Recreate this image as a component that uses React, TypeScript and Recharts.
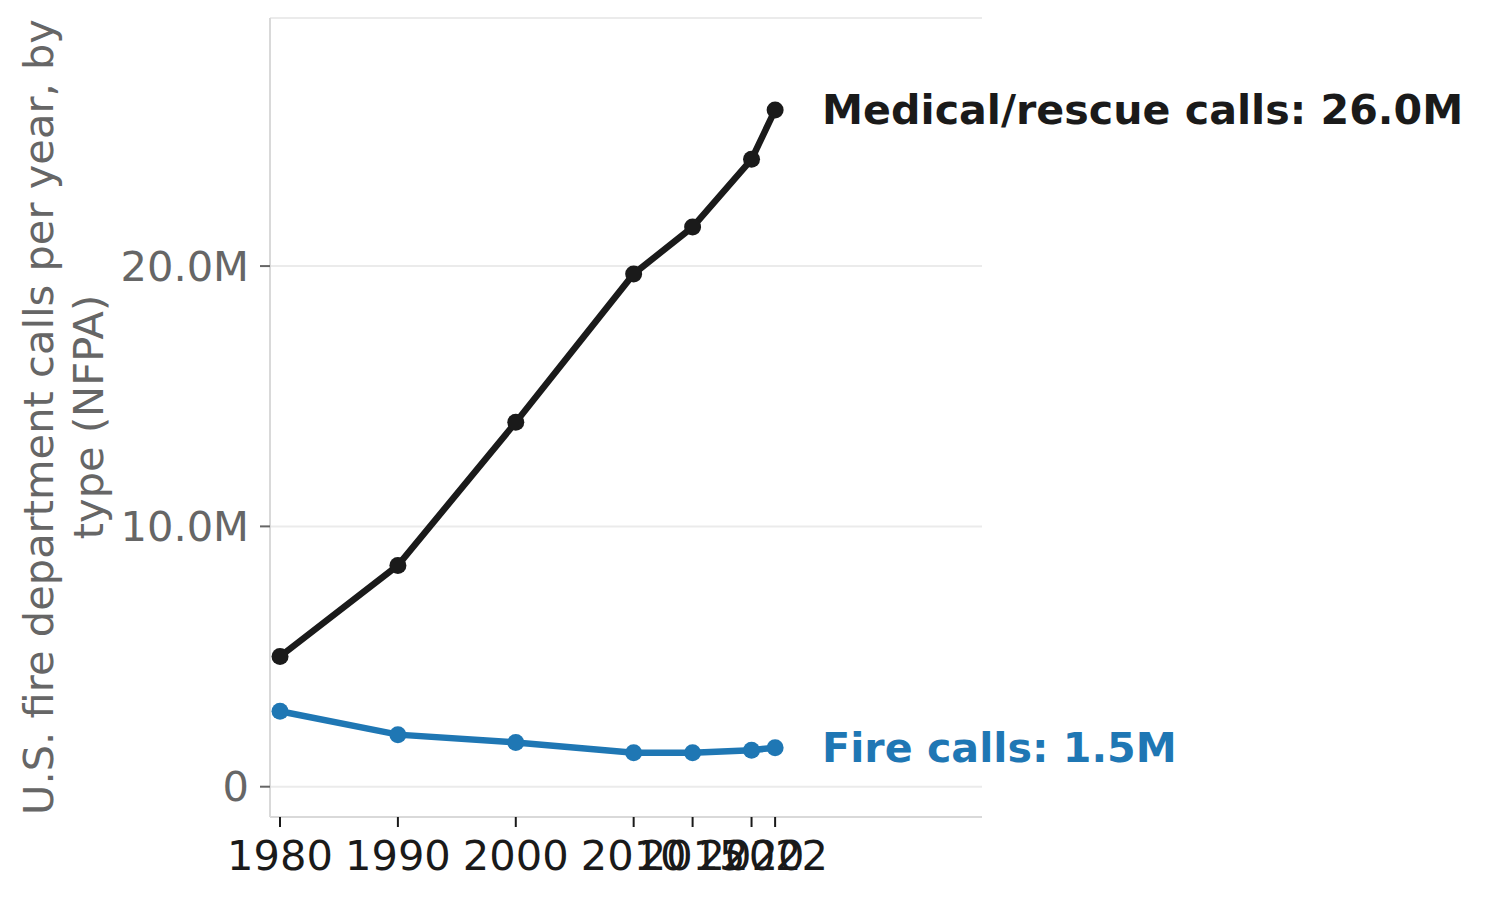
import { LineChart, Line, XAxis, YAxis, CartesianGrid, LabelList, Label } from "recharts";

const years = [1980, 1990, 2000, 2010, 2015, 2020, 2022];
const medicalCalls = [5.0, 8.5, 14.0, 19.7, 21.5, 24.1, 26.0];
const fireCalls = [2.9, 2.0, 1.7, 1.3, 1.3, 1.4, 1.5];
const yTicks = [0, 10e6, 20e6];

const data = years.map((year, i) => ({
  year,
  medical: medicalCalls[i] * 1e6,
  fire: fireCalls[i] * 1e6,
}));

const FONT = "'DejaVu Sans', sans-serif";
const FS = 41.6;
const BLACK = "#1a1a1a";
const BLUE = "#1f77b4";

const formatY = (v: number) => (v === 0 ? "0" : `${(v / 1e6).toFixed(1)}M`);

function endLabel(text: string, color: string) {
  return (props: any) => {
    const { x, y, index } = props;
    if (index !== years.length - 1) return null;
    return (
      <text
        x={x + 47}
        y={y}
        dominantBaseline="central"
        fill={color}
        fontSize={41.2}
        fontWeight="bold"
        fontFamily={FONT}
      >
        {text}
      </text>
    );
  };
}

function YTitle() {
  return (
    <text
      transform="rotate(-90)"
      textAnchor="middle"
      fill="#666666"
      fontSize={FS}
      fontFamily={FONT}
    >
      <tspan x={-417} y={53}>U.S. fire department calls per year, by</tspan>
      <tspan x={-417} y={103}>type (NFPA)</tspan>
    </text>
  );
}

export default function App() {
  const last = data[data.length - 1];
  return (
    <div style={{ position: "absolute", left: 0, top: 0, fontFamily: FONT }}>
      <LineChart
        width={1488}
        height={899}
        data={data}
        margin={{ top: 18, right: 506, bottom: 0, left: 0 }}
      >
        <CartesianGrid vertical={false} stroke="#ebebeb" strokeWidth={2} />
        <XAxis
          dataKey="year"
          type="number"
          domain={[1979.15, 2039.55]}
          ticks={years}
          interval={0}
          allowDataOverflow
          height={82}
          tickSize={10}
          tickMargin={13}
          axisLine={{ stroke: "#d9d9d9", strokeWidth: 2 }}
          tickLine={{ stroke: "#1a1a1a", strokeWidth: 2 }}
          tick={{ fontSize: FS, fill: "#1a1a1a", fontFamily: FONT }}
        />
        <YAxis
          type="number"
          domain={[-1.164e6, 29.53e6]}
          ticks={yTicks}
          interval={0}
          allowDataOverflow
          width={270}
          tickSize={10}
          tickMargin={11}
          tickFormatter={formatY}
          axisLine={{ stroke: "#d9d9d9", strokeWidth: 2 }}
          tickLine={{ stroke: "#666666", strokeWidth: 2 }}
          tick={{ fontSize: FS, fill: "#666666", fontFamily: FONT }}
        >
          <Label content={() => <YTitle />} />
        </YAxis>
        <Line
          dataKey="medical"
          stroke={BLACK}
          strokeWidth={6.5}
          dot={{ r: 8.5, fill: BLACK, stroke: BLACK, strokeWidth: 0 }}
          isAnimationActive={false}
        >
          <LabelList
            dataKey="medical"
            content={endLabel(`Medical/rescue calls: ${(last.medical / 1e6).toFixed(1)}M`, BLACK)}
          />
        </Line>
        <Line
          dataKey="fire"
          stroke={BLUE}
          strokeWidth={6.5}
          dot={{ r: 8.5, fill: BLUE, stroke: BLUE, strokeWidth: 0 }}
          isAnimationActive={false}
        >
          <LabelList
            dataKey="fire"
            content={endLabel(`Fire calls: ${(last.fire / 1e6).toFixed(1)}M`, BLUE)}
          />
        </Line>
      </LineChart>
    </div>
  );
}
